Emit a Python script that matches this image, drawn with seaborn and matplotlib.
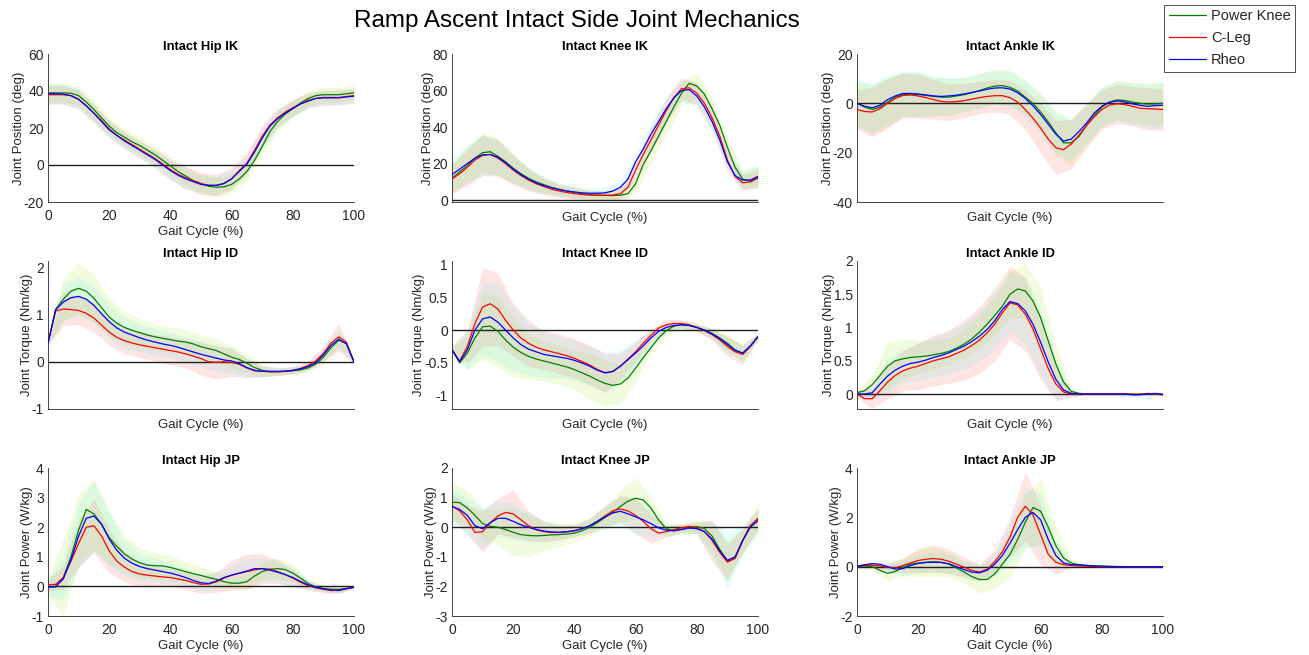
import numpy as np
import matplotlib
matplotlib.use("Agg")
import matplotlib.pyplot as plt
from matplotlib.lines import Line2D
import seaborn as sns

# ---------------- data ----------------
GAIT = np.arange(0, 100.01, 2.5)      # mean curves sampled every 2.5 % of gait cycle
GAIT_SD = np.arange(0, 100.01, 5.0)   # standard deviation bands sampled every 5 %

DEVICES = ["Power Knee", "C-Leg", "Rheo"]

# ---- Hip IK (deg)
HIP_IK_PK = [39, 39, 39, 38.8, 37.5, 34, 30, 25.5, 21, 17.5,
             15, 12.5, 10.5, 8, 5.5, 2.5, -0.5, -3.5, -6, -8.5,
             -10, -11.5, -12, -11.8, -10.5, -7.5, -3.5, 2.5, 10, 18,
             23.5, 27.5, 30.5, 33.5, 36, 37.5, 38, 38, 38, 38.5,
             39]
HIP_IK_CL = [38, 38, 38, 37.5, 35.5, 32, 28, 24, 19.5, 16,
             13.5, 11, 8.5, 6, 3.5, 0.5, -2.5, -5, -7, -8.5,
             -10, -11, -11, -10, -7.5, -3, 1, 8, 15.5, 21.5,
             25.5, 28.5, 31, 33, 35, 36, 36.5, 36.5, 36.5, 37,
             37.5]
HIP_IK_RH = [38.5, 38.5, 38.3, 37.5, 35.5, 32, 28, 23.5, 19, 16,
             13, 10.5, 8, 5.5, 3, 0, -3, -5.5, -7.5, -9,
             -10.5, -11, -11, -10, -7.5, -3.5, 0.5, 7, 14.5, 21,
             25, 28, 30.5, 33, 34.5, 36, 36.3, 36.3, 36.3, 36.8,
             37.2]
HIP_IK_PK_SD = [5, 5, 5, 5, 4.5, 4.5, 4.5, 4.5, 5, 5, 5, 5, 5, 5, 5, 5, 4.5, 4, 4, 4, 4]
HIP_IK_CL_SD = [5, 5, 5, 5, 4.5, 4.5, 4.5, 5, 5.5, 6, 6, 6, 6, 6, 6, 5, 4.5, 4, 4, 4, 4]
HIP_IK_RH_SD = [5.5, 5.5, 5.5, 5, 4.5, 4.5, 4.5, 4.5, 5, 5, 5, 5, 5, 5, 5, 5, 4.5, 4, 4, 4, 4]

# ---- Knee IK (deg)
KNEE_IK_PK = [12, 15.5, 19, 23, 26, 26.5, 24, 21, 17.5, 14.5,
              12, 10, 8.5, 7, 6, 5, 4.2, 3.5, 3, 2.8,
              2.6, 2.5, 2.7, 3.5, 9, 19.5, 27, 35, 43, 51,
              58.5, 64, 62.5, 58, 50, 41, 29, 18, 11.5, 10.5,
              12.5]
KNEE_IK_CL = [11.5, 14.5, 18, 22, 24.5, 25, 23, 20, 16.5, 13.5,
              11, 9, 7.5, 6, 5, 4.2, 3.6, 3.1, 2.8, 2.7,
              2.7, 2.8, 3.5, 7, 16.5, 25, 33, 41, 49, 56,
              61, 61.5, 58.5, 53, 45, 35, 22, 13, 9.5, 10,
              12]
KNEE_IK_RH = [14, 17, 20, 23, 24.8, 25, 23.5, 20.5, 17, 14,
              11.5, 9.5, 8, 6.8, 5.8, 5, 4.5, 4, 3.8, 3.8,
              4, 5, 7, 11.5, 21, 28, 36, 43, 50, 56,
              60, 60.5, 57, 51, 43, 33, 21, 13.5, 11, 11,
              13]
KNEE_IK_PK_SD = [8, 10, 11, 10, 8, 6, 4.5, 3.5, 3, 2.5, 2.5, 3, 5, 7, 7, 7, 7, 6, 5, 5, 6]
KNEE_IK_CL_SD = [8, 10, 11, 10, 8, 6, 4.5, 3.5, 3, 2.5, 2.5, 3, 5, 7, 7, 6, 6, 6, 5, 4.5, 5]
KNEE_IK_RH_SD = [9, 10, 11, 10, 8, 6, 4.5, 3.5, 3, 3, 3, 3.5, 5, 6, 6, 6, 6, 6, 6, 5, 6]

# ---- Ankle IK (deg)
ANKLE_IK_PK = [0, -1.5, -2.5, -1.5, 0.5, 2.5, 3.5, 3.8, 3.6, 3.2,
               2.8, 2.5, 2.5, 3, 3.5, 4.3, 5.2, 6.2, 7, 7.2,
               6.5, 5, 2.5, 0, -3.5, -7.5, -12, -16, -16, -13.5,
               -9, -5, -1.5, 0.5, 1.4, 1.2, 0.5, 0, -0.3, -0.2,
               0]
ANKLE_IK_CL = [-2.5, -3.3, -3.5, -2.2, 0, 2, 3.2, 3.4, 3, 2.3,
               1.5, 0.8, 0.5, 0.7, 1.1, 1.7, 2.3, 2.8, 3.1, 3.1,
               2.3, 0.5, -2.5, -6, -10, -14.5, -18, -18.8, -16.5, -13,
               -9, -5.5, -2.5, -0.7, -0.2, -0.5, -1.2, -2, -2.2, -2.3,
               -2.5]
ANKLE_IK_RH = [0, -1.2, -1.8, -0.8, 1.5, 3, 4, 4, 3.8, 3.4,
               3, 2.8, 3, 3.3, 3.8, 4.4, 5, 5.7, 6.2, 6.3,
               5.8, 4.3, 2, -1, -4.5, -8.5, -12.5, -15.3, -14.5, -11.5,
               -8, -4, -1.2, 0.5, 1, 0.6, -0.2, -0.8, -1.2, -0.9,
               -0.8]
ANKLE_IK_PK_SD = [9, 10, 10, 9, 9, 8, 7.5, 7, 7, 7, 7, 7, 8, 9, 9, 8, 8, 8, 8, 8.5, 9]
ANKLE_IK_CL_SD = [8, 10, 10, 9, 9, 8, 7.5, 7, 6.5, 6.5, 7, 8, 10, 11, 10, 9, 8, 8, 8, 8.5, 8.5]
ANKLE_IK_RH_SD = [10, 10, 10, 9, 9, 8, 7.5, 7, 7, 7, 7, 7, 8, 8.5, 8.5, 8, 8, 8, 8.5, 9, 9.5]

# ---- Hip ID (Nm/kg)
HIP_ID_PK = [0.4, 1.12, 1.33, 1.5, 1.56, 1.5, 1.35, 1.15, 0.95, 0.82,
             0.73, 0.67, 0.62, 0.57, 0.53, 0.5, 0.47, 0.44, 0.42, 0.38,
             0.32, 0.28, 0.24, 0.17, 0.1, 0.05, -0.03, -0.12, -0.18, -0.21,
             -0.21, -0.2, -0.19, -0.17, -0.13, -0.05, 0.1, 0.3, 0.46, 0.4,
             0.0]
HIP_ID_CL = [0.4, 1.08, 1.12, 1.11, 1.09, 1.03, 0.93, 0.78, 0.63, 0.52,
             0.45, 0.4, 0.36, 0.33, 0.3, 0.27, 0.24, 0.21, 0.17, 0.12,
             0.07, 0.0, -0.01, 0.0, -0.01, -0.05, -0.13, -0.19, -0.2, -0.21,
             -0.21, -0.2, -0.18, -0.14, -0.08, 0.02, 0.18, 0.4, 0.53, 0.42,
             0.0]
HIP_ID_RH = [0.4, 1.1, 1.27, 1.36, 1.39, 1.33, 1.2, 1.02, 0.85, 0.72,
             0.63, 0.57, 0.51, 0.46, 0.42, 0.38, 0.35, 0.31, 0.26, 0.21,
             0.16, 0.12, 0.08, 0.04, 0.02, -0.04, -0.12, -0.18, -0.2, -0.2,
             -0.2, -0.2, -0.18, -0.15, -0.1, -0.02, 0.15, 0.35, 0.48, 0.38,
             0.0]
HIP_ID_PK_SD = [0.05, 0.45, 0.55, 0.5, 0.4, 0.35, 0.3, 0.28, 0.27, 0.26, 0.25,
                0.25, 0.24, 0.2, 0.12, 0.08, 0.07, 0.08, 0.12, 0.15, 0.03]
HIP_ID_CL_SD = [0.05, 0.35, 0.3, 0.3, 0.28, 0.28, 0.27, 0.28, 0.3, 0.3, 0.35,
                0.35, 0.3, 0.2, 0.12, 0.08, 0.08, 0.1, 0.15, 0.3, 0.03]
HIP_ID_RH_SD = [0.05, 0.4, 0.4, 0.4, 0.35, 0.32, 0.3, 0.28, 0.27, 0.27, 0.28,
                0.28, 0.27, 0.2, 0.12, 0.08, 0.07, 0.08, 0.12, 0.2, 0.03]

# ---- Knee ID (Nm/kg)
KNEE_ID_PK = [-0.3, -0.5, -0.35, -0.12, 0.05, 0.06, -0.02, -0.15, -0.26, -0.34,
              -0.4, -0.44, -0.47, -0.5, -0.53, -0.56, -0.6, -0.65, -0.7, -0.76,
              -0.81, -0.84, -0.82, -0.73, -0.58, -0.42, -0.27, -0.12, -0.01, 0.06,
              0.08, 0.07, 0.04, 0.0, -0.05, -0.12, -0.2, -0.3, -0.35, -0.25,
              -0.1]
KNEE_ID_CL = [-0.3, -0.47, -0.25, 0.1, 0.35, 0.4, 0.32, 0.15, 0.0, -0.12,
              -0.2, -0.26, -0.3, -0.33, -0.36, -0.39, -0.43, -0.48, -0.53, -0.6,
              -0.65, -0.63, -0.55, -0.44, -0.33, -0.2, -0.08, 0.03, 0.08, 0.1,
              0.1, 0.08, 0.04, -0.01, -0.07, -0.15, -0.25, -0.33, -0.37, -0.25,
              -0.1]
KNEE_ID_RH = [-0.3, -0.48, -0.3, 0.0, 0.17, 0.2, 0.12, 0.0, -0.12, -0.22,
              -0.29, -0.33, -0.37, -0.39, -0.41, -0.43, -0.46, -0.5, -0.55, -0.61,
              -0.65, -0.63, -0.55, -0.45, -0.35, -0.24, -0.12, -0.02, 0.04, 0.07,
              0.08, 0.07, 0.04, 0.0, -0.06, -0.13, -0.22, -0.31, -0.35, -0.24,
              -0.1]
KNEE_ID_PK_SD = [0.05, 0.25, 0.5, 0.55, 0.45, 0.35, 0.3, 0.3, 0.3, 0.35, 0.35,
                 0.3, 0.2, 0.1, 0.08, 0.06, 0.06, 0.08, 0.12, 0.12, 0.05]
KNEE_ID_CL_SD = [0.05, 0.25, 0.6, 0.55, 0.4, 0.35, 0.3, 0.3, 0.3, 0.3, 0.3,
                 0.2, 0.15, 0.1, 0.08, 0.06, 0.06, 0.08, 0.15, 0.15, 0.05]
KNEE_ID_RH_SD = [0.05, 0.3, 0.55, 0.6, 0.5, 0.4, 0.35, 0.32, 0.3, 0.3, 0.3,
                 0.25, 0.2, 0.12, 0.08, 0.06, 0.06, 0.08, 0.12, 0.12, 0.05]

# ---- Ankle ID (Nm/kg)
ANKLE_ID_PK = [0.02, 0.05, 0.14, 0.28, 0.42, 0.5, 0.53, 0.55, 0.56, 0.57,
               0.59, 0.61, 0.64, 0.69, 0.75, 0.83, 0.93, 1.05, 1.18, 1.32,
               1.5, 1.58, 1.55, 1.4, 1.15, 0.8, 0.45, 0.18, 0.04, 0.01,
               0.0, 0.0, 0.0, 0.0, 0.0, 0.0, -0.01, -0.01, 0.01, 0.0,
               -0.01]
ANKLE_ID_CL = [0.0, -0.07, -0.07, 0.05, 0.18, 0.28, 0.35, 0.39, 0.42, 0.46,
               0.5, 0.53, 0.56, 0.61, 0.66, 0.73, 0.81, 0.92, 1.05, 1.22,
               1.37, 1.34, 1.2, 0.98, 0.68, 0.38, 0.15, 0.03, 0.0, 0.0,
               0.0, 0.0, 0.0, 0.0, 0.0, 0.0, 0.0, 0.0, 0.0, 0.0,
               0.0]
ANKLE_ID_RH = [0.0, 0.0, 0.02, 0.15, 0.27, 0.36, 0.42, 0.46, 0.48, 0.51,
               0.55, 0.58, 0.62, 0.67, 0.72, 0.79, 0.87, 0.97, 1.1, 1.27,
               1.39, 1.36, 1.25, 1.05, 0.78, 0.48, 0.22, 0.06, 0.01, 0.0,
               0.0, 0.0, 0.0, 0.0, 0.0, 0.0, -0.01, -0.01, 0.0, 0.01,
               -0.01]
ANKLE_ID_PK_SD = [0.05, 0.15, 0.35, 0.3, 0.25, 0.22, 0.2, 0.22, 0.25, 0.3, 0.35,
                  0.42, 0.45, 0.3, 0.05, 0.01, 0.01, 0.01, 0.01, 0.01, 0.01]
ANKLE_ID_CL_SD = [0.05, 0.15, 0.25, 0.3, 0.35, 0.38, 0.4, 0.45, 0.5, 0.55, 0.55,
                  0.55, 0.45, 0.25, 0.05, 0.01, 0.01, 0.01, 0.01, 0.01, 0.01]
ANKLE_ID_RH_SD = [0.05, 0.1, 0.25, 0.25, 0.28, 0.3, 0.32, 0.35, 0.38, 0.42, 0.45,
                  0.5, 0.5, 0.3, 0.05, 0.01, 0.01, 0.01, 0.01, 0.01, 0.01]

# ---- Hip JP (W/kg)
HIP_JP_PK = [-0.02, -0.02, 0.3, 1.0, 1.9, 2.6, 2.45, 2.1, 1.65, 1.35,
             1.1, 0.92, 0.8, 0.72, 0.7, 0.69, 0.64, 0.57, 0.5, 0.43,
             0.37, 0.3, 0.24, 0.16, 0.11, 0.11, 0.16, 0.35, 0.5, 0.58,
             0.6, 0.57, 0.45, 0.28, 0.1, -0.02, -0.07, -0.1, -0.1, -0.07,
             -0.03]
HIP_JP_CL = [0.05, 0.07, 0.3, 0.85, 1.45, 2.0, 2.05, 1.7, 1.2, 0.85,
             0.65, 0.5, 0.42, 0.38, 0.35, 0.32, 0.3, 0.25, 0.2, 0.13,
             0.07, 0.08, 0.15, 0.28, 0.38, 0.44, 0.5, 0.56, 0.6, 0.58,
             0.5, 0.4, 0.28, 0.14, 0.03, -0.05, -0.1, -0.14, -0.14, -0.08,
             -0.02]
HIP_JP_RH = [-0.02, 0.0, 0.25, 0.9, 1.7, 2.3, 2.38, 2.1, 1.6, 1.22,
             0.95, 0.78, 0.67, 0.6, 0.55, 0.5, 0.45, 0.38, 0.3, 0.2,
             0.12, 0.1, 0.18, 0.3, 0.38, 0.45, 0.52, 0.6, 0.6, 0.55,
             0.48, 0.4, 0.3, 0.17, 0.05, -0.03, -0.08, -0.12, -0.13, -0.08,
             -0.03]
HIP_JP_PK_SD = [0.3, 1.3, 1.2, 1.2, 0.9, 0.6, 0.5, 0.45, 0.4, 0.35, 0.3,
                0.25, 0.2, 0.25, 0.3, 0.35, 0.3, 0.15, 0.1, 0.1, 0.05]
HIP_JP_CL_SD = [0.2, 0.4, 0.8, 0.9, 0.75, 0.5, 0.4, 0.35, 0.3, 0.3, 0.3,
                0.35, 0.5, 0.6, 0.5, 0.4, 0.3, 0.15, 0.12, 0.1, 0.05]
HIP_JP_RH_SD = [0.3, 0.7, 1.1, 1.2, 0.9, 0.6, 0.45, 0.4, 0.35, 0.3, 0.28,
                0.3, 0.35, 0.4, 0.4, 0.35, 0.3, 0.15, 0.1, 0.1, 0.05]

# ---- Knee JP (W/kg)
KNEE_JP_PK = [0.85, 0.83, 0.65, 0.4, 0.12, 0.03, 0.0, -0.08, -0.17, -0.25,
              -0.28, -0.29, -0.28, -0.26, -0.25, -0.23, -0.2, -0.12, 0.0, 0.15,
              0.33, 0.5, 0.7, 0.88, 0.98, 0.92, 0.65, 0.25, -0.05, -0.12,
              -0.07, 0.0, 0.02, -0.05, -0.3, -0.75, -1.15, -1.05, -0.45, 0.05,
              0.28]
KNEE_JP_CL = [0.72, 0.55, 0.25, -0.18, -0.15, 0.15, 0.38, 0.5, 0.45, 0.25,
              0.05, -0.08, -0.15, -0.18, -0.18, -0.16, -0.12, -0.05, 0.05, 0.2,
              0.38, 0.55, 0.62, 0.55, 0.4, 0.2, -0.05, -0.2, -0.15, -0.08,
              -0.02, 0.03, -0.02, -0.15, -0.45, -0.85, -1.18, -1.05, -0.45, 0.05,
              0.3]
KNEE_JP_RH = [0.7, 0.6, 0.4, 0.05, -0.05, 0.15, 0.3, 0.3, 0.2, 0.08,
              0.0, -0.08, -0.13, -0.16, -0.17, -0.15, -0.12, -0.05, 0.05, 0.2,
              0.35, 0.48, 0.54, 0.45, 0.35, 0.25, 0.12, -0.02, -0.1, -0.12,
              -0.08, -0.03, -0.05, -0.15, -0.4, -0.8, -1.12, -1.0, -0.45, 0.0,
              0.22]
KNEE_JP_PK_SD = [0.7, 0.6, 0.5, 0.6, 0.8, 0.7, 0.5, 0.4, 0.3, 0.3, 0.4,
                 0.55, 0.7, 0.4, 0.2, 0.15, 0.2, 0.5, 0.7, 0.4, 0.5]
KNEE_JP_CL_SD = [0.4, 0.5, 0.7, 0.6, 0.8, 0.5, 0.35, 0.25, 0.2, 0.25, 0.35,
                 0.45, 0.6, 0.5, 0.2, 0.15, 0.2, 0.7, 0.6, 0.4, 0.35]
KNEE_JP_RH_SD = [0.6, 0.6, 0.7, 0.6, 0.6, 0.5, 0.35, 0.25, 0.2, 0.25, 0.35,
                 0.5, 0.6, 0.45, 0.2, 0.15, 0.2, 0.6, 0.95, 0.5, 0.4]

# ---- Ankle JP (W/kg)
ANKLE_JP_PK = [0.0, 0.02, 0.0, -0.15, -0.27, -0.2, -0.02, 0.1, 0.15, 0.18,
               0.2, 0.18, 0.1, -0.05, -0.22, -0.4, -0.52, -0.52, -0.3, 0.1,
               0.5, 1.1, 1.8, 2.4, 2.25, 1.6, 0.85, 0.35, 0.15, 0.08,
               0.05, 0.03, 0.02, 0.01, 0.01, 0.0, 0.0, 0.0, 0.0, 0.0,
               0.0]
ANKLE_JP_CL = [0.02, 0.05, 0.06, 0.03, -0.03, -0.05, 0.05, 0.15, 0.25, 0.3,
               0.33, 0.3, 0.22, 0.1, -0.02, -0.15, -0.22, -0.1, 0.2, 0.6,
               1.2, 2.0, 2.45, 2.1, 1.3, 0.5, 0.18, 0.08, 0.05, 0.03,
               0.02, 0.01, 0.0, 0.0, 0.0, 0.0, 0.0, 0.0, 0.0, 0.0,
               0.0]
ANKLE_JP_RH = [0.02, 0.08, 0.12, 0.1, 0.0, -0.1, -0.08, 0.05, 0.13, 0.17,
               0.18, 0.17, 0.12, 0.0, -0.12, -0.22, -0.25, -0.15, 0.1, 0.45,
               0.95, 1.5, 2.0, 2.2, 1.9, 1.1, 0.45, 0.15, 0.08, 0.07,
               0.05, 0.03, 0.02, 0.01, 0.0, 0.0, 0.0, 0.0, 0.0, 0.0,
               0.0]
ANKLE_JP_PK_SD = [0.05, 0.15, 0.3, 0.35, 0.55, 0.6, 0.5, 0.45, 0.55, 0.6, 0.9,
                  1.1, 1.3, 0.8, 0.15, 0.05, 0.03, 0.02, 0.02, 0.01, 0.01]
ANKLE_JP_CL_SD = [0.05, 0.1, 0.15, 0.3, 0.5, 0.55, 0.5, 0.4, 0.35, 0.45, 0.8,
                  1.4, 1.2, 0.5, 0.1, 0.03, 0.02, 0.02, 0.01, 0.01, 0.01]
ANKLE_JP_RH_SD = [0.05, 0.1, 0.2, 0.3, 0.35, 0.4, 0.4, 0.35, 0.35, 0.4, 0.8,
                  1.2, 1.1, 0.6, 0.1, 0.03, 0.02, 0.02, 0.01, 0.01, 0.01]

TITLES = ["Intact Hip IK", "Intact Knee IK", "Intact Ankle IK",
          "Intact Hip ID", "Intact Knee ID", "Intact Ankle ID",
          "Intact Hip JP", "Intact Knee JP", "Intact Ankle JP"]
YLABELS = ["Joint Position (deg)", "Joint Torque (Nm/kg)", "Joint Power (W/kg)"]
XLABEL = "Gait Cycle (%)"
X_TICKS = [0, 20, 40, 60, 80, 100]
Y_TICKS = [[-20, 0, 20, 40, 60], [0, 20, 40, 60, 80], [-40, -20, 0, 20],
           [-1, 0, 1, 2], [-1, -0.5, 0, 0.5, 1], [0, 0.5, 1, 1.5, 2],
           [-1, 0, 1, 2, 3, 4], [-3, -2, -1, 0, 1, 2], [-2, 0, 2, 4]]

MEANS = [(HIP_IK_PK, HIP_IK_CL, HIP_IK_RH), (KNEE_IK_PK, KNEE_IK_CL, KNEE_IK_RH),
         (ANKLE_IK_PK, ANKLE_IK_CL, ANKLE_IK_RH),
         (HIP_ID_PK, HIP_ID_CL, HIP_ID_RH), (KNEE_ID_PK, KNEE_ID_CL, KNEE_ID_RH),
         (ANKLE_ID_PK, ANKLE_ID_CL, ANKLE_ID_RH),
         (HIP_JP_PK, HIP_JP_CL, HIP_JP_RH), (KNEE_JP_PK, KNEE_JP_CL, KNEE_JP_RH),
         (ANKLE_JP_PK, ANKLE_JP_CL, ANKLE_JP_RH)]
SDS = [(HIP_IK_PK_SD, HIP_IK_CL_SD, HIP_IK_RH_SD), (KNEE_IK_PK_SD, KNEE_IK_CL_SD, KNEE_IK_RH_SD),
       (ANKLE_IK_PK_SD, ANKLE_IK_CL_SD, ANKLE_IK_RH_SD),
       (HIP_ID_PK_SD, HIP_ID_CL_SD, HIP_ID_RH_SD), (KNEE_ID_PK_SD, KNEE_ID_CL_SD, KNEE_ID_RH_SD),
       (ANKLE_ID_PK_SD, ANKLE_ID_CL_SD, ANKLE_ID_RH_SD),
       (HIP_JP_PK_SD, HIP_JP_CL_SD, HIP_JP_RH_SD), (KNEE_JP_PK_SD, KNEE_JP_CL_SD, KNEE_JP_RH_SD),
       (ANKLE_JP_PK_SD, ANKLE_JP_CL_SD, ANKLE_JP_RH_SD)]

# ---------------- style ----------------
sns.set_style("white")
plt.rcParams["font.family"] = ["Liberation Sans", "DejaVu Sans"]
plt.rcParams["axes.unicode_minus"] = False

LINE_COLORS = ["#008000", "#ff0000", "#0000ff"]
BAND_COLORS = ["#99ee00", "#ff5050", "#40e8e8"]
BAND_ALPHA = [0.13, 0.15, 0.12]

W, H = 1309, 655
fig = plt.figure(figsize=(W / 100, H / 100), dpi=100)

COL_LEFT = [48, 452, 857]
ROW_TOP = [54, 261, 468]
AX_W, AX_H = 306, 148
YLIMS = [(-20, 60), (-1, 80), (-40, 20),
         (-1, 2.14), (-1.2, 1.05), (-0.225, 2),
         (-1, 4), (-3, 2), (-2, 4)]
SHOW_XTICKS = [True, False, False, False, False, False, True, True, True]

TEXT_COLOR = "#262626"

for i in range(9):
    r, c = divmod(i, 3)
    ax = fig.add_axes([COL_LEFT[c] / W, 1 - (ROW_TOP[r] + AX_H) / H, AX_W / W, AX_H / H])
    for k in range(3):
        m = np.asarray(MEANS[i][k], dtype=float)
        sd = np.asarray(SDS[i][k], dtype=float)
        ms = m[::2]
        ax.fill_between(GAIT_SD, ms - sd, ms + sd, color=BAND_COLORS[k],
                        alpha=BAND_ALPHA[k], lw=0, zorder=1)
    ax.axhline(0, color="#202020", lw=1.0, zorder=2)
    for k in range(3):
        sns.lineplot(x=GAIT, y=np.asarray(MEANS[i][k], dtype=float), ax=ax,
                     color=LINE_COLORS[k], lw=0.9, zorder=3 + k, legend=False)
    ax.set_xlim(0, 100)
    ax.set_ylim(*YLIMS[i])
    ax.set_yticks(Y_TICKS[i])
    ax.set_yticklabels([f"{t:g}" for t in Y_TICKS[i]])
    ax.tick_params(direction="in", length=3, width=0.6, labelsize=10,
                   colors=TEXT_COLOR, pad=3)
    if SHOW_XTICKS[i]:
        ax.set_xticks(X_TICKS)
        ax.set_xticklabels([str(t) for t in X_TICKS])
        ax.tick_params(axis="x", pad=5)
        xl_pad = 2
    else:
        ax.set_xticks([])
        xl_pad = 7
    for s in ["top", "right"]:
        ax.spines[s].set_visible(False)
    for s in ["left", "bottom"]:
        ax.spines[s].set_color("#262626")
        ax.spines[s].set_linewidth(0.6)
    ax.set_xlabel(XLABEL, fontsize=9.5, color=TEXT_COLOR, labelpad=xl_pad)
    ax.set_ylabel(YLABELS[r], fontsize=9.5, color=TEXT_COLOR, labelpad=-1)
    ax.set_title(TITLES[i], fontsize=9.3, fontweight="bold", color="black", pad=3)
    ax.set_facecolor("none")

fig.text(577 / W, 1 - 21.5 / H, "Ramp Ascent Intact Side Joint Mechanics",
         ha="center", va="center", fontsize=17.5, color="black")

handles = [Line2D([0], [0], color=LINE_COLORS[k], lw=0.9) for k in range(3)]
leg = fig.legend(handles, DEVICES, loc="upper right",
                 bbox_to_anchor=(1295 / W, 1 - 5 / H), frameon=True, fancybox=False,
                 edgecolor="black", fontsize=10.5, handlelength=2.55,
                 handletextpad=0.35, borderpad=0.3, labelspacing=0.55,
                 borderaxespad=0)
leg.get_frame().set_linewidth(0.6)

fig.savefig("out.png", dpi=100, facecolor="white")
